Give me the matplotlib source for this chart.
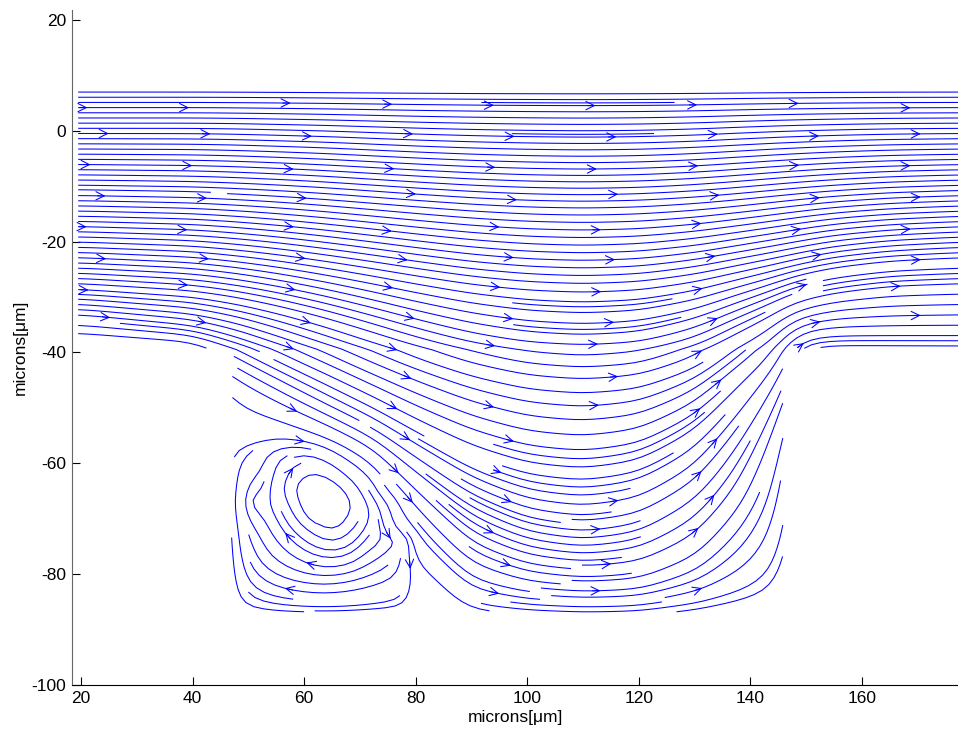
import numpy as np
import matplotlib
matplotlib.use('Agg')
import matplotlib.pyplot as plt
from matplotlib.collections import LineCollection

plt.rcParams['font.family'] = ['Liberation Sans', 'DejaVu Sans']
plt.rcParams['axes.unicode_minus'] = False

# x positions (microns) where the streamlines were sampled
station_x = [20, 40, 48, 56, 64, 72, 80, 90, 100, 110, 120, 130, 138, 145, 148, 155, 165, 178]

# height of each traced streamline at the stations, from the top wall down to the cavity floor
top_wall = [7.5] * len(station_x)
line_0 = [0, 0, -0.1, -0.3, -0.5, -0.8, -1.1, -1.4, -1.6, -1.7, -1.6, -1.3, -0.9, -0.6, -0.5, -0.3, -0.1, 0]
line_10 = [-10, -10.3, -10.6, -11.0, -11.5, -12.1, -12.7, -13.4, -13.9, -14.1, -13.9, -13.3, -12.6, -11.9, -11.6, -11.0, -10.4, -10]
line_20 = [-20, -20.7, -21.4, -22.3, -23.4, -24.6, -25.9, -27.4, -28.4, -28.8, -28.4, -27.0, -25.3, -23.9, -23.2, -21.8, -20.7, -20]
line_28 = [-28, -29.3, -30.5, -32.2, -34.3, -36.8, -39.5, -42.6, -44.8, -45.6, -44.8, -41.5, -37.0, -33.5, -31.5, -29.8, -28.5, -28]
line_33 = [-33, -35.0, -37.0, -40.0, -43.5, -47.5, -51.5, -56.0, -59.0, -60.0, -58.5, -53.0, -45.0, -39.0, -35.0, -33.8, -33.2, -33]
line_36 = [-36.5, -38.5, -41.5, -46.0, -50.5, -54.5, -60.0, -67.0, -71.5, -73.0, -71.5, -65.5, -55.0, -44.0, -37.3, -36.5, -36.5, -36.5]
line_38 = [-38.5, -39.2, -46.0, -50.5, -54.0, -58.0, -67.0, -78.0, -81.5, -82.5, -82.0, -78.0, -69.0, -50.0, -38.8, -38.3, -38.4, -38.5]
bottom_wall = [-39.5, -39.5, -56.0, -55.0, -56.0, -61.0, -78.0, -87.0, -87.0, -87.0, -87.0, -87.0, -87.0, -87.0, -39.5, -39.5, -39.5, -39.5]

# stream function value carried by each traced line (its inlet height)
levels = [-39.5, -38.5, -36.5, -33, -28, -20, -10, 0, 7.5]

# recirculation in the lower-left corner of the cavity: closed loops sampled at vortex_x
vortex_x = [47, 50, 53, 56, 59, 62, 65, 68, 71, 74, 77, 80]
nan = np.nan
loop1_top = [nan, -62.0, -57.5, -56.3, -56.3, -57.0, -58.3, -60.3, -63.0, -67.0, -73.0, nan]
loop1_bot = [nan, -72.0, -77.5, -79.5, -80.5, -81.0, -81.0, -80.5, -79.5, -78.0, -75.5, nan]
loop2_top = [nan, nan, nan, -59.5, -57.8, -58.0, -59.5, -62.0, -65.5, nan, nan, nan]
loop2_bot = [nan, nan, nan, -69.5, -73.5, -75.5, -76.2, -75.5, -72.0, nan, nan, nan]
loop3_top = [nan, nan, nan, nan, -61.0, -60.2, -61.5, -64.0, nan, nan, nan, nan]
loop3_bot = [nan, nan, nan, nan, -68.5, -71.5, -73.0, -71.0, nan, nan, nan, nan]
loop4_top = [nan, nan, nan, nan, nan, -64.5, -65.5, nan, nan, nan, nan, nan]
loop4_bot = [nan, nan, nan, nan, nan, -69.5, -70.5, nan, nan, nan, nan, nan]

# geometry of the channel and cavity
channel_top, channel_bottom = 7.5, -39.5
cavity_left, cavity_right, cavity_floor = 47.0, 146.0, -87.0

# lines in the cavity are drawn sparser than in the channel
cavity_squeeze = 0.68


def smooth(a, sigma, axis):
    r = int(3 * sigma) + 1
    k = np.exp(-0.5 * (np.arange(-r, r + 1) / sigma) ** 2)
    k /= k.sum()
    pad = [(0, 0), (0, 0)]
    pad[axis] = (r, r)
    ap = np.pad(a, pad, mode='edge')
    return np.apply_along_axis(lambda m: np.convolve(m, k, mode='valid'), axis, ap)


def to_eta(y):
    y = np.asarray(y, float)
    return np.where(y >= channel_bottom, y, channel_bottom + cavity_squeeze * (y - channel_bottom))


def from_eta(e):
    e = np.asarray(e, float)
    return np.where(e >= channel_bottom, e, channel_bottom + (e - channel_bottom) / cavity_squeeze)


step = 0.5
gx = np.arange(19.5, 178.0 + 1e-9, step)
geta = np.arange(float(to_eta(-88.0)), 8.0 + 1e-9, 0.4)
gy = from_eta(geta)

# main flow: stream function from the traced lines, column by column
traced = [bottom_wall, line_38, line_36, line_33, line_28, line_20, line_10, line_0, top_wall]
traced_fine = [np.interp(gx, station_x, t) for t in traced]
psi = np.empty((gy.size, gx.size))
for j in range(gx.size):
    ys = [t[j] for t in traced_fine]
    psi[:, j] = np.interp(gy, ys, levels)
psi = smooth(smooth(psi, 4.0, 0), 2.5 / step, 1)

# vortex: extra stream function, zero on the floor and on the dividing line
loops = [(loop1_bot, loop1_top, -1.0), (loop2_bot, loop2_top, -2.0),
         (loop3_bot, loop3_top, -3.0), (loop4_bot, loop4_top, -4.0)]
wall_at_vx = np.interp(vortex_x, station_x, bottom_wall)
bump_cols = []
for i in range(len(vortex_x)):
    lo = [(cavity_floor - 0.5, 0.0)]
    hi = [(wall_at_vx[i], 0.0)]
    inner = None
    for bot, top, lev in loops:
        if not np.isnan(bot[i]):
            lo.append((bot[i], lev))
            hi.insert(0, (top[i], lev))
            inner = (bot[i], top[i], lev)
    if inner is not None:
        lo.append((0.5 * (inner[0] + inner[1]), inner[2] - 0.6))
    knots = lo + hi
    bump_cols.append(np.interp(gy, [k[0] for k in knots], [k[1] for k in knots]))
bump_cols = np.array(bump_cols)
bump = np.empty_like(psi)
for r in range(gy.size):
    bump[r] = np.interp(gx, vortex_x, bump_cols[:, r], left=0.0, right=0.0)
bump = smooth(smooth(bump, 1.5, 0), 1.0 / step, 1)
psi = psi + 0.5 * bump

dpsi_dy, dpsi_dx = np.gradient(psi, gy, gx)
u, v = dpsi_dy, -dpsi_dx
# velocity in the squeezed coordinate
v = v * np.where(gy >= channel_bottom, 1.0, cavity_squeeze)[:, None]

X, Y = np.meshgrid(gx, gy)
inside = ((Y >= channel_bottom) & (Y <= channel_top)) | \
         ((X >= cavity_left) & (X <= cavity_right) & (Y >= cavity_floor) & (Y <= channel_top))
u = np.ma.masked_where(~inside, u)
v = np.ma.masked_where(~inside, v)

# trace the streamlines on a scratch axes, then map them back to microns
scratch = plt.figure()
sp = scratch.add_subplot().streamplot(gx, geta, u, v, density=2.9, arrowsize=0.01,
                                      minlength=0.15)
lines = []
for s in sp.lines.get_segments():
    s = np.array(s, float)
    if len(s) < 2:
        continue
    s[:, 1] = from_eta(s[:, 1])
    lines.append(s)
plt.close(scratch)

fig = plt.figure(figsize=(9.58, 7.34), dpi=100)
ax = fig.add_axes([0.0752, 0.0668, 0.9248, 0.9196])
ax.add_collection(LineCollection(lines, colors='blue', linewidths=0.75))

# open arrowheads on a regular lattice, snapped to the nearest drawn line
pts = np.concatenate([0.5 * (s[1:] + s[:-1]) for s in lines])
dirs = np.concatenate([s[1:] - s[:-1] for s in lines])
for cx in np.arange(20.7, 178, 18.3):
    for k, cy in enumerate(np.arange(4.6, -88, -5.5)):
        px = cx + (3.0 if k % 2 else 0.0)
        d2 = ((pts - [px, cy]) ** 2).sum(axis=1)
        i = np.argmin(d2)
        if d2[i] > 1.0:
            continue
        d = dirs[i] / (np.hypot(*dirs[i]) + 1e-12)
        ax.annotate('', xy=pts[i] + 0.7 * d, xytext=pts[i] - 0.7 * d,
                    arrowprops=dict(arrowstyle='->,head_length=0.6,head_width=0.3',
                                    color='blue', lw=0.75, shrinkA=0, shrinkB=0,
                                    mutation_scale=10))

ax.set_xlim(18.4, 177.2)
ax.set_ylim(-100, 21.8)
ax.set_xticks(range(20, 161, 20))
ax.set_yticks(range(-100, 21, 20))
ax.tick_params(direction='in', length=6, width=0.8, labelsize=12.5, pad=4)
for s in ('top', 'right'):
    ax.spines[s].set_visible(False)
ax.spines['left'].set_color('#666666')
ax.set_xlabel('microns[\u03bcm]', fontsize=12.5, labelpad=3)
ax.set_ylabel('microns[\u03bcm]', fontsize=12.5, labelpad=3)

fig.savefig('out.png', dpi=100)
